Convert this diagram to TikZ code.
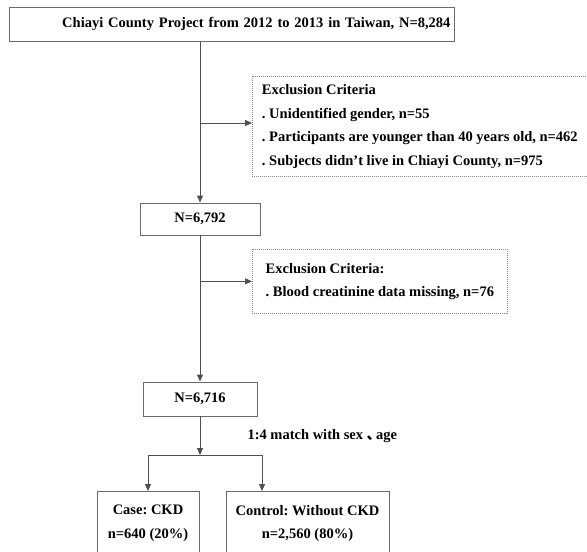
\documentclass[tikz,border=0pt]{standalone}
\usepackage{fontspec}
\setmainfont{Liberation Serif}
\newfontfamily\cjk{Noto Sans CJK SC}
\usepackage{xcolor}
\usepackage{tikz}
\usetikzlibrary{arrows.meta,positioning,calc}
\definecolor{boxline}{HTML}{6B6B6B}
\definecolor{flowline}{HTML}{505050}
\definecolor{dotline}{HTML}{8A8A8A}
\tikzset{
  fbox/.style={draw=boxline,line width=0.9pt,fill=white,align=center,inner sep=0pt},
  fexcl/.style={draw=dotline,line width=0.7pt,dash pattern=on 1pt off 1pt,align=left,anchor=north west,inner xsep=5pt,inner ysep=0pt},
  farr/.style={-{Triangle[length=7pt,width=6pt]},line width=0.9pt,draw=flowline},
  fline/.style={line width=0.9pt,draw=flowline}
}

\begin{document}
\begin{tikzpicture}[x=1pt,y=-1pt,font=\bfseries\fontsize{14.5}{23.5}\selectfont\frenchspacing]
  \useasboundingbox (0,0) rectangle (587,552);
  \node[fbox,text width=437pt,align=right,inner xsep=4pt,minimum height=34pt,anchor=north west] (src) at (9,7)
     {Chiayi County Project from 2012 to 2013 in Taiwan, N=8,284};
  \node[fexcl,minimum width=335pt,minimum height=100pt] (excl1) at (252,76) {Exclusion Criteria\\
     . Unidentified gender, n=55\\
     . Participants are younger than 40 years old, n=462\\
     . Subjects didn’t live in Chiayi County, n=975};
  \node[fbox,minimum width=120pt,minimum height=32pt] (n1) at (200,219) {N=6,792};
  \node[fexcl,minimum width=255pt,minimum height=64pt] (excl2) at (252,249) {Exclusion Criteria:\\
     . Blood creatinine data missing, n=76};
  \node[fbox,minimum width=114pt,minimum height=34pt] (n2) at (200,399) {N=6,716};
  \node[anchor=west] (match) at (244,436) {1:4 match with sex {\cjk 、}\kern-0.35em age};
  \node[fbox,minimum width=102pt,minimum height=64pt,anchor=north] (case) at (148,491) {Case: CKD\\ n=640 (20\%)};
  \node[fbox,minimum width=163pt,minimum height=64pt,anchor=north] (ctrl) at (307.5,491) {Control: Without CKD\\ n=2,560 (80\%)};
  % split below N=6,716
  \coordinate (split) at (200,455);
  \coordinate (lsplit) at (148,455);
  \coordinate (rsplit) at (262,455);
  \coordinate (tee1) at (200,123);
  \draw[farr] (src.south -| n1.north) -- (n1.north);
  \draw[farr] (tee1) -- (tee1 -| excl1.west);
  \draw[farr] (n1.south) -- (n2.north);
  \draw[farr] (n1.south |- excl2.west) -- (excl2.west);
  \draw[farr] (n2.south) -- (split);
  \draw[fline] (lsplit) -- (rsplit);
  \draw[farr] (lsplit) -- (lsplit |- case.north);
  \draw[farr] (rsplit) -- (rsplit |- ctrl.north);
\end{tikzpicture}
\end{document}
